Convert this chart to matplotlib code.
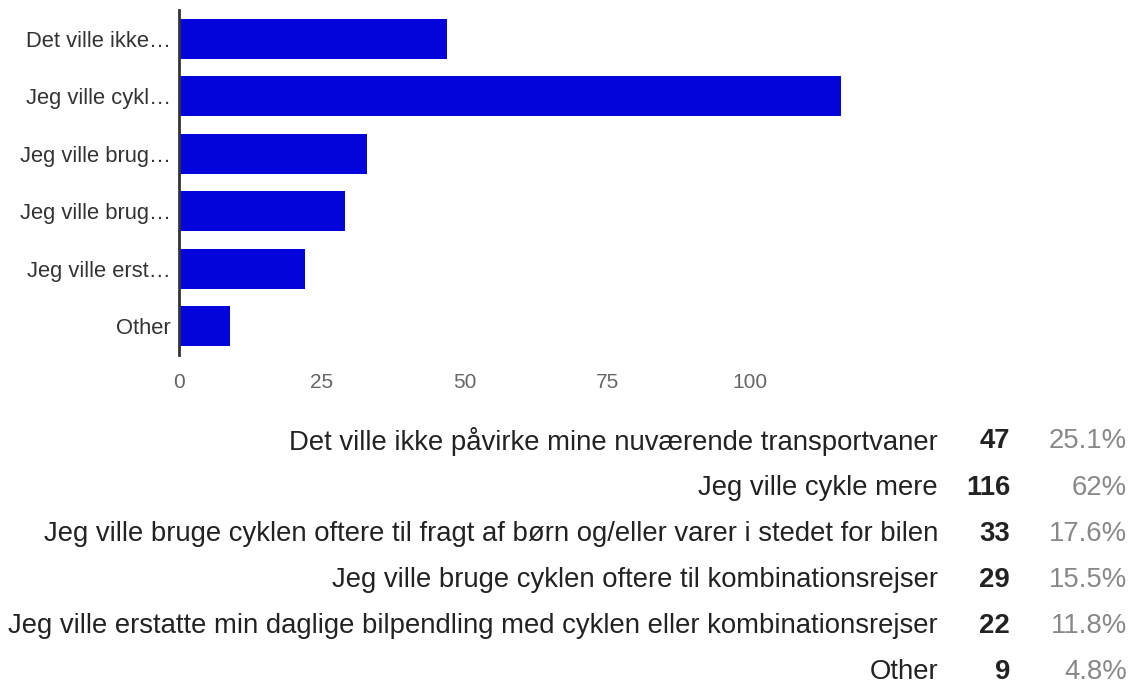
import matplotlib
matplotlib.use('Agg')
import matplotlib.pyplot as plt

# survey answers
short_labels = ['Det ville ikke…', 'Jeg ville cykl…', 'Jeg ville brug…',
                'Jeg ville brug…', 'Jeg ville erst…', 'Other']
full_labels = ['Det ville ikke påvirke mine nuværende transportvaner',
               'Jeg ville cykle mere',
               'Jeg ville bruge cyklen oftere til fragt af børn og/eller varer i stedet for bilen',
               'Jeg ville bruge cyklen oftere til kombinationsrejser',
               'Jeg ville erstatte min daglige bilpendling med cyklen eller kombinationsrejser',
               'Other']
counts = [47, 116, 33, 29, 22, 9]
percents = ['25.1%', '62%', '17.6%', '15.5%', '11.8%', '4.8%']
xticks = [0, 25, 50, 75, 100]

plt.rcParams['font.family'] = ['Liberation Sans', 'DejaVu Sans']

fig = plt.figure(figsize=(11.33, 6.9), dpi=100)
ax = fig.add_axes([0.158, 0.4855, 0.63, 0.5])

y = list(range(len(counts)))
ax.barh(y, counts, height=0.7, color='#0303dc')
ax.set_ylim(5.5, -0.5)
ax.set_xlim(0, 125)
ax.set_yticks(y)
ax.set_yticklabels(short_labels, fontsize=15.8, color='#333333')
ax.set_xticks(xticks)
ax.set_xticklabels([str(t) for t in xticks], fontsize=15, color='#666666')
ax.tick_params(length=0, pad=6)
ax.tick_params(axis='x', pad=13)
for s in ['top', 'right', 'bottom']:
    ax.spines[s].set_visible(False)
ax.spines['left'].set_linewidth(2)
ax.spines['left'].set_color('#333333')

# table under the chart
row_y = [441, 488, 534, 580, 626, 672]
for i in range(len(counts)):
    yy = 1 - row_y[i] / 690
    fig.text(938 / 1133, yy, full_labels[i], ha='right', va='center',
             fontsize=19.8, color='#222222')
    fig.text(1010 / 1133, yy, str(counts[i]), ha='right', va='center',
             fontsize=19.8, fontweight='bold', color='#222222')
    fig.text(1127 / 1133, yy, percents[i], ha='right', va='center',
             fontsize=19.8, color='#888888')

fig.savefig('out.png', dpi=100)
